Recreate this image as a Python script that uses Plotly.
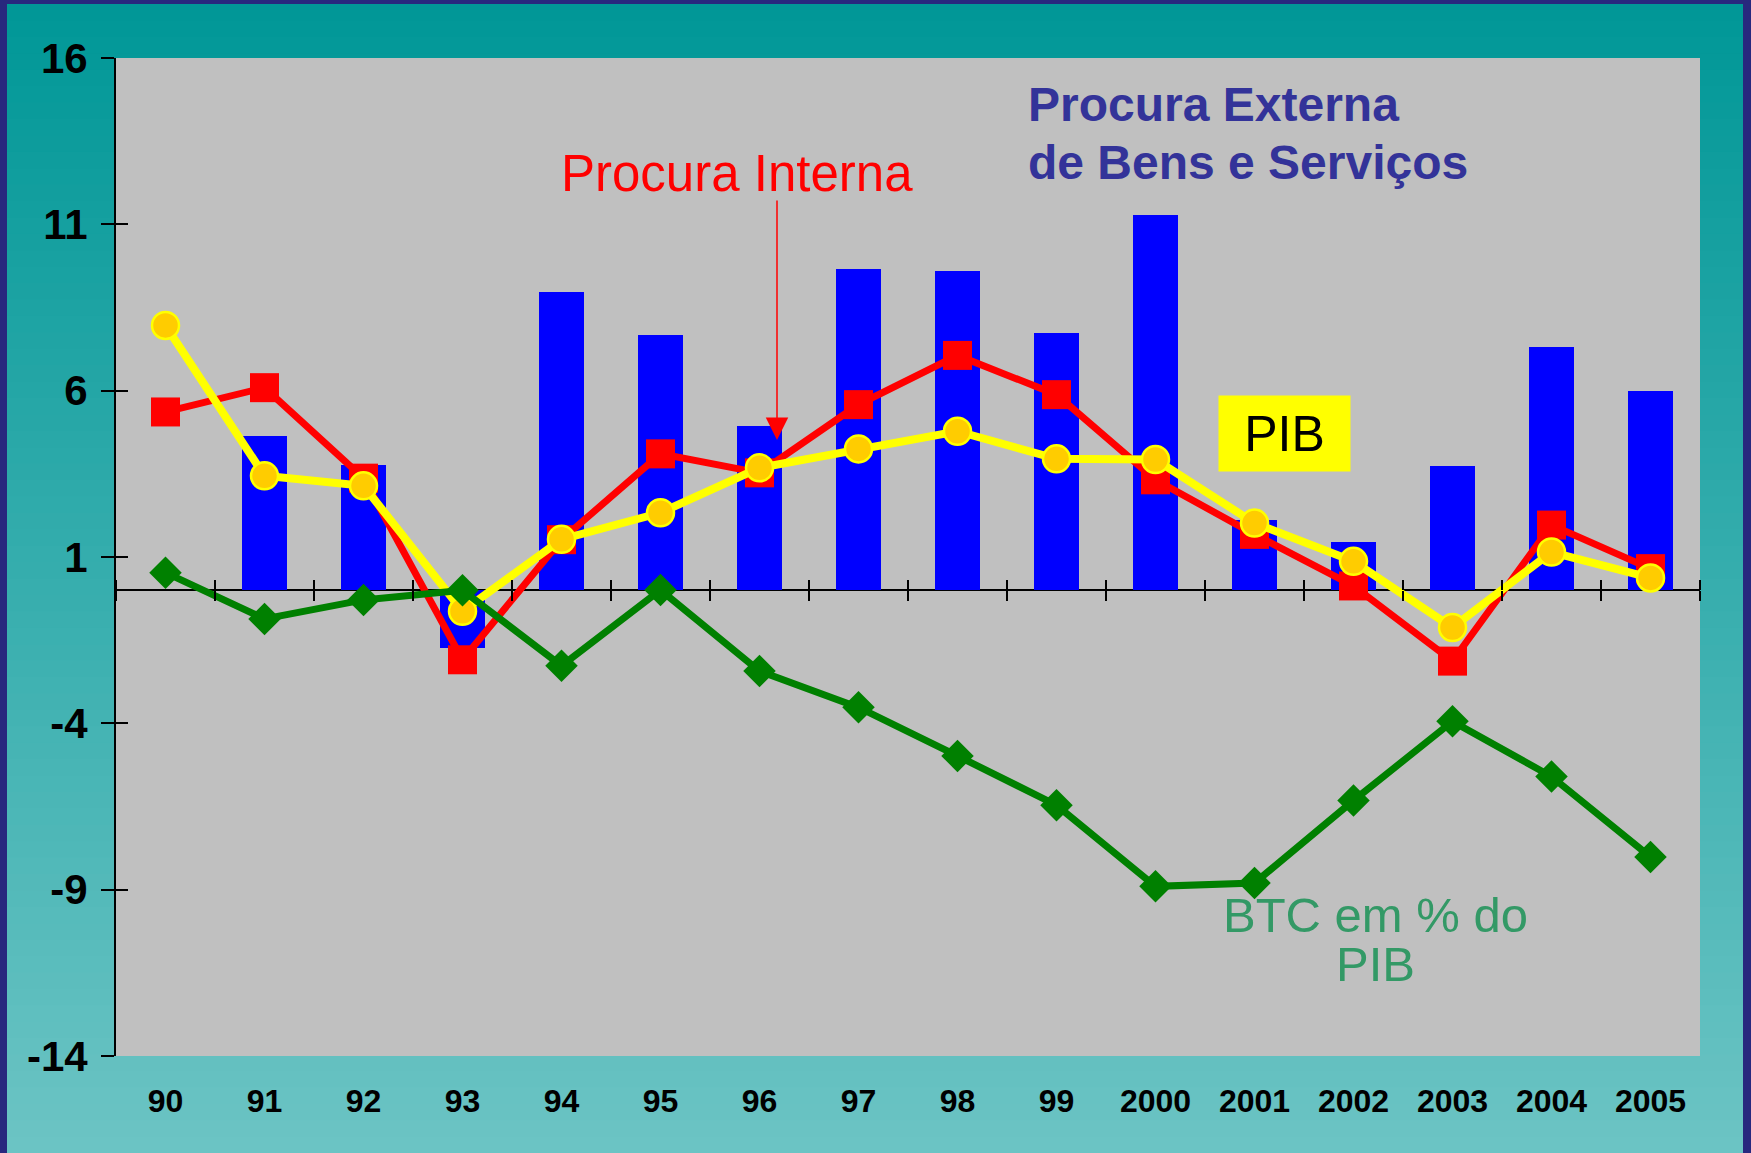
import plotly.graph_objects as go

# ---------------- data ----------------
categories = ["90", "91", "92", "93", "94", "95", "96", "97", "98", "99",
              "2000", "2001", "2002", "2003", "2004", "2005"]
procura_externa = [None, 4.65, 3.76, -1.74, 8.98, 7.68, 4.94, 9.65, 9.59, 7.74,
                   11.27, 2.12, 1.46, 3.73, 7.30, 6.00]
procura_interna = [5.36, 6.09, 3.37, -2.09, 1.52, 4.10, 3.53, 5.58, 7.06, 5.88,
                   3.32, 1.68, 0.13, -2.13, 1.96, 0.65]
pib = [7.96, 3.44, 3.14, -0.63, 1.53, 2.33, 3.68, 4.25, 4.78, 3.95,
       3.93, 2.02, 0.87, -1.12, 1.15, 0.37]
btc_pct_pib = [0.53, -0.86, -0.29, 0.0, -2.27, 0.01, -2.43, -3.52, -4.98, -6.46,
               -8.90, -8.80, -6.32, -3.94, -5.60, -8.02]
y_ticks = [16, 11, 6, 1, -4, -9, -14]
y_tick_labels = [str(v) for v in y_ticks]

# ---------------- layout geometry ----------------
W, H = 1751, 1153
ML, MR, MT, MB = 116, 51, 58, 97
PW, PH = W - ML - MR, H - MT - MB
ymin, ymax = -14, 16
idx = list(range(len(categories)))
xr = [-0.5, len(categories) - 0.5]
boundaries = [i + 0.5 for i in range(-1, len(categories))]


def dx(px):
    return xr[0] + (px - ML) / PW * (xr[1] - xr[0])


def dy(py):
    return ymax - (py - MT) / PH * (ymax - ymin)


def py2paper(py):
    return (MT + PH - py) / PH


def px2paper(px):
    return (px - ML) / PW


FONT = "Arial, Liberation Sans, sans-serif"

fig = go.Figure()

fig.add_trace(go.Bar(x=idx, y=procura_externa, width=0.46,
                     marker=dict(color="#0000FF", line=dict(width=0)),
                     showlegend=False, hoverinfo="skip"))
fig.add_trace(go.Scatter(x=idx, y=procura_interna, mode="lines+markers",
                         line=dict(color="#FF0000", width=7),
                         marker=dict(symbol="square", size=29, color="#FF0000"),
                         showlegend=False))
fig.add_trace(go.Scatter(x=idx, y=pib, mode="lines+markers",
                         line=dict(color="#FFFF00", width=8),
                         marker=dict(symbol="circle", size=27, color="#FFCC00",
                                     line=dict(color="#FFFF00", width=2.5)),
                         showlegend=False))
fig.add_trace(go.Scatter(x=idx, y=btc_pct_pib, mode="lines+markers",
                         line=dict(color="#008000", width=7),
                         marker=dict(symbol="diamond", size=25, color="#008000"),
                         showlegend=False))

# helper empty traces so that the overlay axes exist
fig.add_trace(go.Scatter(x=[None], y=[None], xaxis="x2", yaxis="y", showlegend=False, hoverinfo="skip"))
fig.add_trace(go.Scatter(x=[None], y=[None], xaxis="x3", yaxis="y", showlegend=False, hoverinfo="skip"))
fig.add_trace(go.Scatter(x=[None], y=[None], xaxis="x", yaxis="y2", showlegend=False, hoverinfo="skip"))

# ---------------- background ----------------
shapes = []
top_c = (0, 151, 151)
bot_c = (108, 196, 196)
y_top, y_bot = 4, H
N = 70
for i in range(N):
    a = y_top + (y_bot - y_top) * i / N
    b = y_top + (y_bot - y_top) * (i + 1) / N + 1
    t = (i + 0.5) / N
    c = tuple(round(top_c[k] + (bot_c[k] - top_c[k]) * t) for k in range(3))
    shapes.append(dict(type="rect", xref="paper", yref="paper", layer="below",
                       x0=px2paper(7), x1=px2paper(W - 8),
                       y0=py2paper(b), y1=py2paper(a),
                       fillcolor="rgb(%d,%d,%d)" % c, line=dict(width=0)))
shapes.append(dict(type="rect", xref="paper", yref="paper", layer="below",
                   x0=0, x1=1, y0=0, y1=1, fillcolor="#C0C0C0", line=dict(width=0)))

annotations = [
    dict(x=dx(737), y=dy(173), xref="x", yref="y", text="Procura Interna",
         showarrow=False, xanchor="center", yanchor="middle",
         font=dict(family=FONT, size=51, color="#FF0000")),
    dict(x=dx(777), y=dy(440), ax=dx(777), ay=dy(199), xref="x", yref="y",
         axref="x", ayref="y", text="", showarrow=True, arrowcolor="#FF0000",
         arrowwidth=1.5, arrowhead=2, arrowsize=3, standoff=0),
    dict(x=dx(1026), y=dy(104), xref="x", yref="y", text="Procura Externa",
         showarrow=False, xanchor="left", yanchor="middle",
         font=dict(family=FONT, size=48, color="#333399", weight="bold")),
    dict(x=dx(1026), y=dy(162), xref="x", yref="y", text="de Bens e Serviços",
         showarrow=False, xanchor="left", yanchor="middle",
         font=dict(family=FONT, size=48, color="#333399", weight="bold")),
    dict(x=dx(1284.5), y=dy(433.5), xref="x", yref="y", text="PIB",
         showarrow=False, xanchor="center", yanchor="middle",
         width=127, height=71, borderpad=2, bgcolor="#FFFF00", align="center",
         font=dict(family=FONT, size=50, color="#000000")),
    dict(x=dx(1375), y=dy(915), xref="x", yref="y", text="BTC em % do",
         showarrow=False, xanchor="center", yanchor="middle",
         font=dict(family=FONT, size=49, color="#339966")),
    dict(x=dx(1375), y=dy(964), xref="x", yref="y", text="PIB",
         showarrow=False, xanchor="center", yanchor="middle",
         font=dict(family=FONT, size=49, color="#339966")),
]

zero_pos = (0 - ymin) / (ymax - ymin)

fig.update_layout(
    width=W, height=H,
    margin=dict(l=ML, r=MR, t=MT, b=MB, pad=0),
    paper_bgcolor="#28287E",
    plot_bgcolor="rgba(0,0,0,0)",
    shapes=shapes,
    annotations=annotations,
    bargap=0,
    xaxis=dict(range=xr, tickmode="array", tickvals=idx, ticktext=categories,
               showline=False, ticks="", showgrid=False, zeroline=False,
               tickfont=dict(family=FONT, size=32, color="#000000", weight="bold"),
               ticklabelstandoff=23, fixedrange=True),
    xaxis2=dict(overlaying="x", anchor="free", position=zero_pos, side="bottom",
                range=xr, tickmode="array", tickvals=boundaries, ticks="outside",
                ticklen=10, tickwidth=2, tickcolor="#000000", showticklabels=False,
                showgrid=False, zeroline=False, showline=False),
    xaxis3=dict(overlaying="x", anchor="free", position=zero_pos, side="top",
                range=xr, tickmode="array", tickvals=boundaries, ticks="outside",
                ticklen=10, tickwidth=2, tickcolor="#000000", showticklabels=False,
                showgrid=False, zeroline=False, showline=False),
    yaxis=dict(range=[ymin, ymax], tickmode="array", tickvals=y_ticks,
               ticktext=y_tick_labels,
               ticks="outside", ticklen=13, tickwidth=2, tickcolor="#000000",
               showline=True, linewidth=2, linecolor="#000000",
               zeroline=True, zerolinecolor="#000000", zerolinewidth=2,
               showgrid=False, ticklabelstandoff=5,
               tickfont=dict(family=FONT, size=42, color="#000000", weight="bold"),
               fixedrange=True),
    yaxis2=dict(overlaying="y", anchor="x", side="left", range=[ymin, ymax],
                tickmode="array", tickvals=y_ticks, ticks="inside", ticklen=12,
                tickwidth=2, tickcolor="#000000", showticklabels=False,
                showline=False, zeroline=False, showgrid=False),
)

fig.write_html("out.html",
               config={"displayModeBar": False, "staticPlot": True},
               post_script="document.body.style.margin='0';"
                           "document.body.style.overflow='hidden';"
                           "document.body.style.background='#28287E';")
